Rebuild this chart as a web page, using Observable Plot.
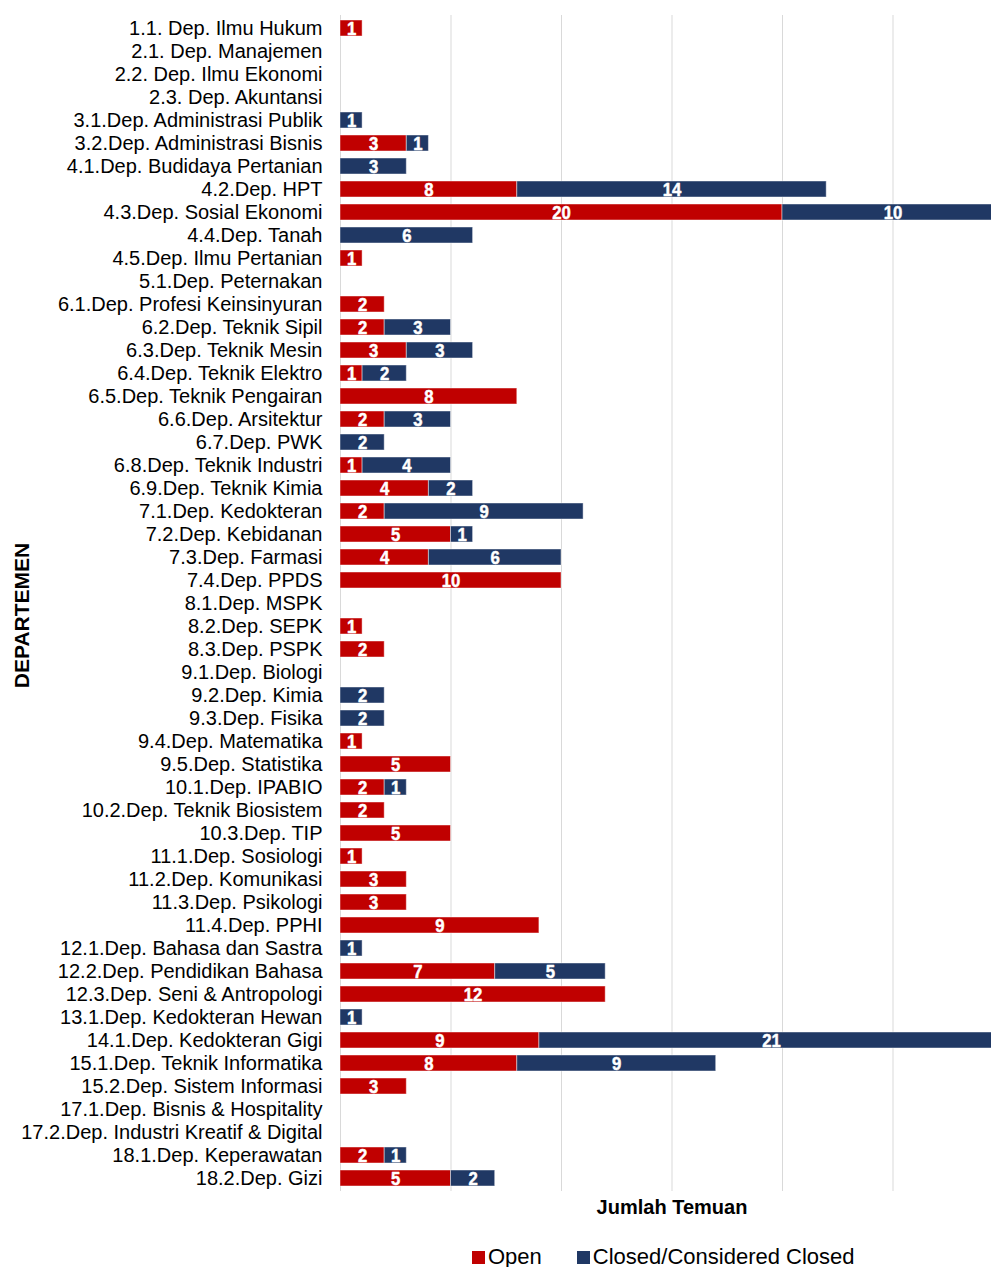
<!DOCTYPE html>
<html>
<head>
<meta charset="utf-8">
<script src="https://cdn.jsdelivr.net/npm/d3@7"></script>
<script src="https://cdn.jsdelivr.net/npm/@observablehq/plot@0.6"></script>
<style>
  html, body { margin: 0; padding: 0; overflow: hidden; background: #fff; }
  body { width: 991px; height: 1267px; font-family: "Liberation Sans", Arial, sans-serif; }
  #chart { width: 1003px; }
  #legend { display: flex; align-items: center; height: 64px; padding-left: 472px; font-size: 22px; color: #000; white-space: nowrap; }
  #legend .item { display: flex; align-items: center; margin-right: 35px; }
  #legend .sw { width: 13px; height: 13px; margin-right: 3px; display: inline-block; }
  svg { display: block; overflow: visible; max-width: none !important; }
</style>
</head>
<body>
<div id="chart"></div>
<div id="legend"></div>
<script>
const departments = [
  "1.1. Dep. Ilmu Hukum",
  "2.1. Dep. Manajemen",
  "2.2. Dep. Ilmu Ekonomi",
  "2.3. Dep. Akuntansi",
  "3.1.Dep. Administrasi Publik",
  "3.2.Dep. Administrasi Bisnis",
  "4.1.Dep. Budidaya Pertanian",
  "4.2.Dep. HPT",
  "4.3.Dep. Sosial Ekonomi",
  "4.4.Dep. Tanah",
  "4.5.Dep. Ilmu Pertanian",
  "5.1.Dep. Peternakan",
  "6.1.Dep. Profesi Keinsinyuran",
  "6.2.Dep. Teknik Sipil",
  "6.3.Dep. Teknik Mesin",
  "6.4.Dep. Teknik Elektro",
  "6.5.Dep. Teknik Pengairan",
  "6.6.Dep. Arsitektur",
  "6.7.Dep. PWK",
  "6.8.Dep. Teknik Industri",
  "6.9.Dep. Teknik Kimia",
  "7.1.Dep. Kedokteran",
  "7.2.Dep. Kebidanan",
  "7.3.Dep. Farmasi",
  "7.4.Dep. PPDS",
  "8.1.Dep. MSPK",
  "8.2.Dep. SEPK",
  "8.3.Dep. PSPK",
  "9.1.Dep. Biologi",
  "9.2.Dep. Kimia",
  "9.3.Dep. Fisika",
  "9.4.Dep. Matematika",
  "9.5.Dep. Statistika",
  "10.1.Dep. IPABIO",
  "10.2.Dep. Teknik Biosistem",
  "10.3.Dep. TIP",
  "11.1.Dep. Sosiologi",
  "11.2.Dep. Komunikasi",
  "11.3.Dep. Psikologi",
  "11.4.Dep. PPHI",
  "12.1.Dep. Bahasa dan Sastra",
  "12.2.Dep. Pendidikan Bahasa",
  "12.3.Dep. Seni & Antropologi",
  "13.1.Dep. Kedokteran Hewan",
  "14.1.Dep. Kedokteran Gigi",
  "15.1.Dep. Teknik Informatika",
  "15.2.Dep. Sistem Informasi",
  "17.1.Dep. Bisnis & Hospitality",
  "17.2.Dep. Industri Kreatif & Digital",
  "18.1.Dep. Keperawatan",
  "18.2.Dep. Gizi"
];

const openValues = [
  1, 0, 0, 0, 0, 3, 0, 8, 20, 0, 1, 0,
  2, 2, 3, 1, 8, 2, 0, 1, 4,
  2, 5, 4, 10,
  0, 1, 2,
  0, 0, 0, 1, 5,
  2, 2, 5,
  1, 3, 3, 9,
  0, 7, 12,
  0, 9, 8, 3,
  0, 0, 2, 5
];

const closedValues = [
  0, 0, 0, 0, 1, 1, 3, 14, 10, 6, 0, 0,
  0, 3, 3, 2, 0, 3, 2, 4, 2,
  9, 1, 6, 0,
  0, 0, 0,
  0, 2, 2, 0, 0,
  1, 0, 0,
  0, 0, 0, 0,
  1, 5, 0,
  1, 21, 9, 0,
  0, 0, 1, 2
];

const statuses = ["Open", "Closed/Considered Closed"];
const statusColors = ["#C00000", "#203864"];
const xGridTicks = [0, 5, 10, 15, 20, 25, 30];
const xDomain = [0, 30];
const xTitle = "Jumlah Temuan";
const yTitle = "DEPARTEMEN";

const rows = [];
departments.forEach((d, i) => {
  if (openValues[i] > 0) rows.push({dept: d, status: statuses[0], value: openValues[i]});
  if (closedValues[i] > 0) rows.push({dept: d, status: statuses[1], value: closedValues[i]});
});

const plot = Plot.plot({
  width: 1003,
  height: 1225,
  marginLeft: 340,
  marginRight: 0,
  marginTop: 15,
  marginBottom: 34,
  style: {fontFamily: "'Liberation Sans', Arial, sans-serif", fontSize: "20px", color: "#000", background: "transparent"},
  x: {domain: xDomain, axis: null},
  y: {domain: departments, paddingInner: 0.285, paddingOuter: 0.142, axis: null},
  color: {domain: statuses, range: statusColors},
  marks: [
    Plot.gridX(xGridTicks, {stroke: "#d9d9d9", strokeOpacity: 1, strokeWidth: 1}),
    Plot.barX(rows, Plot.stackX({
      x: "value", y: "dept", fill: "status", order: statuses,
      stroke: "#ffffff", strokeOpacity: 0.45, strokeWidth: 1
    })),
    Plot.text(rows, Plot.stackX({
      x: "value", y: "dept", z: "status", order: statuses, text: d => String(d.value),
      fill: "#ffffff", stroke: "#ffffff", strokeWidth: 0.5, fontWeight: "bold", fontSize: 19, className: "bar-labels",
      fontFamily: "'Liberation Sans Narrow', 'Arial Narrow', 'Liberation Sans', sans-serif"
    })),
    Plot.axisY({tickSize: 0, tickPadding: 18, fontSize: 20, label: null}),
    Plot.text([xTitle], {text: d => d, frameAnchor: "bottom", textAnchor: "middle", lineAnchor: "middle", dy: 16, fontWeight: "bold", fontSize: 20}),
    Plot.text([yTitle], {text: d => d, frameAnchor: "left", textAnchor: "middle", lineAnchor: "middle", rotate: -90, dx: -318, dy: 12, fontWeight: "bold", fontSize: 21})
  ]
});

plot.style.maxWidth = "none";
document.getElementById("chart").appendChild(plot);

// condense the in-bar value labels horizontally (narrow bold face)
plot.querySelectorAll(".bar-labels text").forEach(t => {
  const tr = t.getAttribute("transform") || "";
  if (tr) {
    t.setAttribute("transform", tr + " scale(0.88,1)");
  } else {
    const x = +t.getAttribute("x") || 0, y = +t.getAttribute("y") || 0;
    t.setAttribute("transform", `translate(${x},${y}) scale(0.88,1)`);
    t.removeAttribute("x"); t.removeAttribute("y");
  }
});

const legend = document.getElementById("legend");
statuses.forEach((s, i) => {
  const item = document.createElement("span");
  item.className = "item";
  const sw = document.createElement("span");
  sw.className = "sw";
  sw.style.background = statusColors[i];
  const lbl = document.createElement("span");
  lbl.textContent = s;
  item.appendChild(sw);
  item.appendChild(lbl);
  legend.appendChild(item);
});
</script>
</body>
</html>
